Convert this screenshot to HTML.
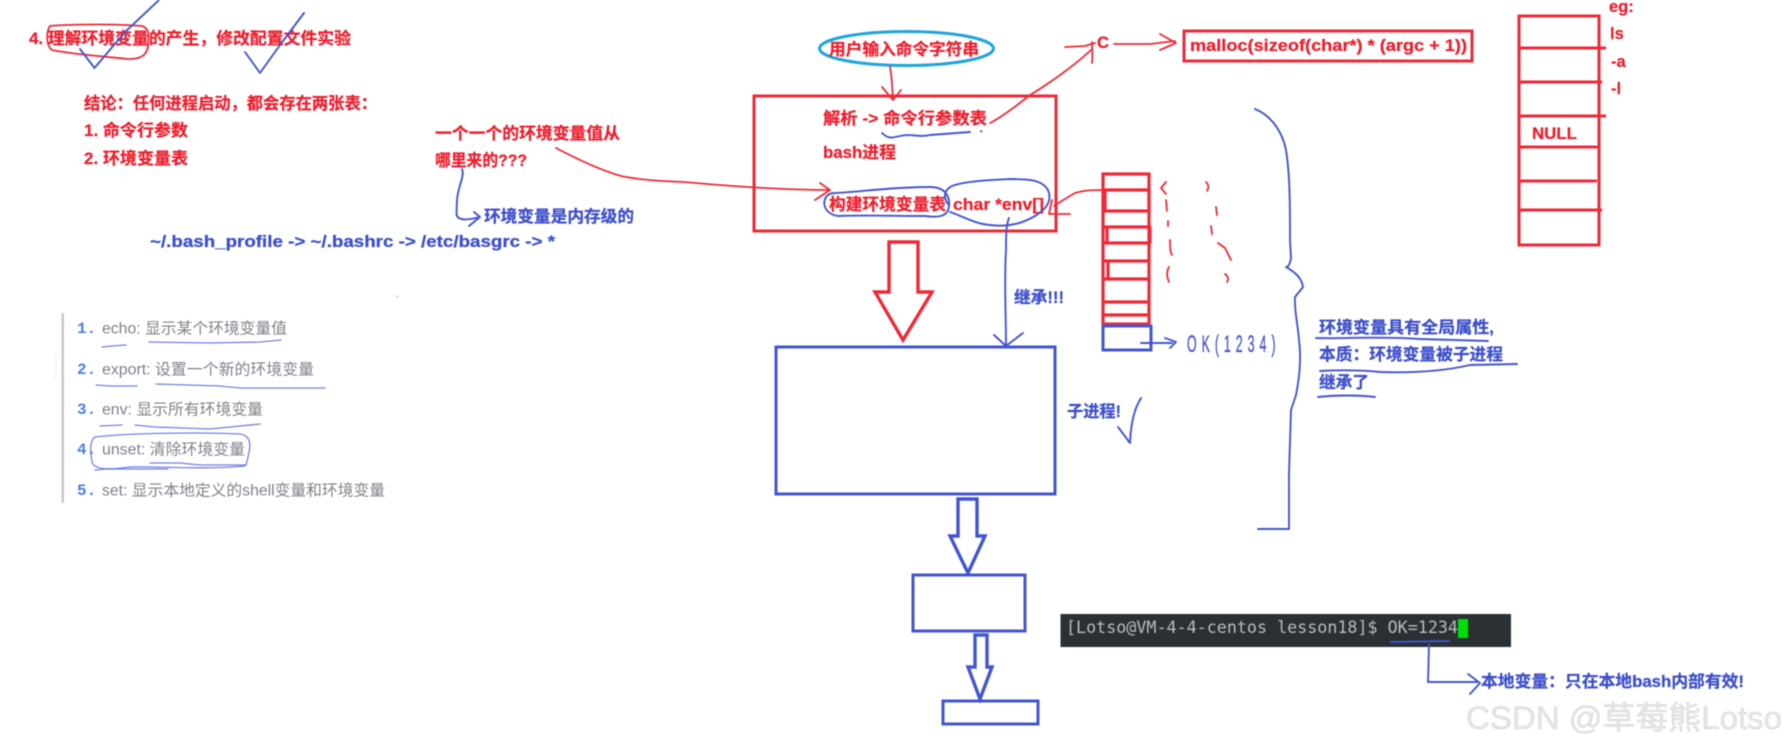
<!DOCTYPE html>
<html lang="zh">
<head>
<meta charset="utf-8">
<title>环境变量</title>
<style>
html,body{margin:0;padding:0;background:#fff;width:1786px;height:748px;overflow:hidden}
svg{display:block;filter:blur(.55px)}
text{font-family:"Liberation Sans","Noto Sans CJK SC",sans-serif;dominant-baseline:central;white-space:pre}
.r{fill:#ec1f2e;stroke:#ec1f2e;stroke-width:.25;font-weight:700;font-size:16.5px;transform:translateY(1px)}
.b{fill:#3c4ecb;stroke:#3c4ecb;stroke-width:.25;font-weight:700;font-size:16.5px;transform:translateY(1px)}
.g{fill:#7d8289;font-size:15.5px}
.n{fill:#4a7fe8;font-size:16px;font-weight:700;font-family:"Liberation Mono",monospace}
.sr,.sb,.sr2,.sb2,.sb1{fill:none;stroke-linecap:round;stroke-linejoin:round}
.sr{stroke:#ee2a37;stroke-width:1.8}
.sr2{stroke:#ee2a37;stroke-width:3.4;stroke-linejoin:miter}
.sb{stroke:#4355cf;stroke-width:1.9}
.sb1{stroke:#5a6adf;stroke-width:1.3;opacity:.85}
.sb2{stroke:#4355cf;stroke-width:3.4;stroke-linejoin:miter}
</style>
</head>
<body>
<svg xmlns="http://www.w3.org/2000/svg" width="1786" height="748" viewBox="0 0 1786 748">
<rect width="1786" height="748" fill="#fff"/>

<!-- top-left notes -->
<text class="r" x="29" y="38" textLength="322" lengthAdjust="spacingAndGlyphs">4. 理解环境变量的产生，修改配置文件实验</text>
<path class="sr" d="M50 26 C70 24 120 24 142 26 C149 28 149 34 148 46 C147 56 140 59 128 59 C100 56 70 54 52 50 C46 46 46 32 50 26Z"/>
<path class="sb" d="M80 49 L94.5 68 L125 32 L159 0"/>
<path class="sb" d="M245 52 L260 73 L280 45 L304 13"/>
<text class="r" x="84" y="103" textLength="293" lengthAdjust="spacingAndGlyphs">结论：任何进程启动，都会存在两张表：</text>
<text class="r" x="84" y="130" textLength="104" lengthAdjust="spacingAndGlyphs">1. 命令行参数</text>
<text class="r" x="84" y="158" textLength="104" lengthAdjust="spacingAndGlyphs">2. 环境变量表</text>
<text class="r" x="435" y="133" textLength="185" lengthAdjust="spacingAndGlyphs">一个一个的环境变量值从</text>
<text class="r" x="435" y="160" textLength="92" lengthAdjust="spacingAndGlyphs">哪里来的???</text>
<path class="sb" d="M462 169 C465 176 458 186 457 200 L456.5 214 C457 220 465 221 480 217 M474 212 L480 217 L469 226"/>
<text class="b" x="484" y="216" textLength="150" lengthAdjust="spacingAndGlyphs">环境变量是内存级的</text>
<text class="b" x="150" y="241" textLength="405" lengthAdjust="spacingAndGlyphs">~/.bash_profile -&gt; ~/.bashrc -&gt; /etc/basgrc -&gt; *</text>
<path class="sr" d="M556 148 C575 158 600 170 621 176 C640 180 660 181 683 182 C730 186 780 190 830 190 M820 183 L830 190 L815 200"/>

<!-- left list -->
<path d="M62.7 313 V503" stroke="#c6c8cc" stroke-width="2.5" fill="none"/>
<path d="M54 353 C57 358 56 376 54 381" stroke="#eeeeee" stroke-width="1" fill="none"/>
<rect x="396.5" y="295.5" width="1.5" height="1.5" fill="#9aa3d8"/>
<text class="n" x="77" y="329">1.</text>
<text class="n" x="77" y="370">2.</text>
<text class="n" x="77" y="410">3.</text>
<text class="n" x="77" y="450">4.</text>
<text class="n" x="77" y="491">5.</text>
<text class="g" x="102" y="329" textLength="185" lengthAdjust="spacingAndGlyphs">echo: 显示某个环境变量值</text>
<text class="g" x="102" y="370" textLength="212" lengthAdjust="spacingAndGlyphs">export: 设置一个新的环境变量</text>
<text class="g" x="102" y="410" textLength="161" lengthAdjust="spacingAndGlyphs">env: 显示所有环境变量</text>
<text class="g" x="102" y="450" textLength="143" lengthAdjust="spacingAndGlyphs">unset: 清除环境变量</text>
<text class="g" x="102" y="491" textLength="283" lengthAdjust="spacingAndGlyphs">set: 显示本地定义的shell变量和环境变量</text>
<path class="sb1" d="M102 347 L112 346 L126 345 M149 342 L210 343 L260 342 L281 340 M96 385 L110 386 L137 386 M156 384 L220 386 L240 388 L325 388 M100 426 L122 425 M135 425 L155 427 L210 429 L260 424 M95 470 L105 469 L168 469 M150 463 L180 463 L200 465 L245 465"/>
<path class="sb1" d="M95 437 C130 433 200 432 240 434 C254 436 250 450 246 465 L244 466 C210 470 150 466 130 467 C110 470 94 470 92 462 C90 450 90 440 95 437Z"/>

<!-- middle top -->
<ellipse cx="906.5" cy="48.5" rx="87" ry="17" fill="none" stroke="#1ea5dc" stroke-width="3"/>
<text class="r" x="829" y="49" textLength="150" lengthAdjust="spacingAndGlyphs">用户输入命令字符串</text>
<path class="sr" d="M890 67 C892 76 892 88 893 100 M882 87 L893 100 L901 90"/>
<rect x="754" y="96" width="302" height="135" fill="none" stroke="#ee2a37" stroke-width="3"/>
<text class="r" x="823" y="118" textLength="164" lengthAdjust="spacingAndGlyphs">解析 -&gt; 命令行参数表</text>
<path class="sb" d="M882 133 C888 139 892 138 900 136 C912 133 918 138 930 135 L970 132 M981 131 L981.5 131.5"/>
<text class="r" x="823" y="152" textLength="73" lengthAdjust="spacingAndGlyphs">bash进程</text>
<text class="r" x="829" y="204" textLength="117" lengthAdjust="spacingAndGlyphs">构建环境变量表</text>
<text class="r" x="953" y="204" textLength="91" lengthAdjust="spacingAndGlyphs">char *env[]</text>
<path class="sb" d="M835 193 C860 192 890 187 930 187 C945 187 950 196 949 206 C948 216 940 218 925 216 C895 216 860 215 838 216 C825 214 822 204 826 197 C828 194 832 193 835 193Z"/>
<path class="sb" d="M950 212 C960 215 975 224 990 225 C1005 227 1020 225 1035 216 C1048 208 1052 200 1048 190 C1042 180 1030 179 1010 179 C990 180 965 181 952 186 C944 190 943 197 948 204"/>
<path class="sb" d="M1009 218 C1006 225 1006 235 1006 250 C1004 280 1006 315 1006 345 M994 335 L1006 346 L1023 333"/>
<text class="b" x="1014" y="297" textLength="50" lengthAdjust="spacingAndGlyphs">继承!!!</text>

<!-- C / malloc -->
<path class="sr" d="M990 123 C1000 118 1015 107 1030 95 C1050 83 1075 65 1091 50 M1065 47 L1085 46 L1095 43 M1092 42 C1092 50 1093 56 1092 63"/>
<text class="r" x="1097" y="42" font-size="18">C</text>
<path class="sr" d="M1114 44 L1150 44 L1175 41 M1160 34 L1176 43 L1160 50"/>
<rect x="1184" y="31" width="288" height="30" fill="none" stroke="#ee2a37" stroke-width="3"/>
<text class="r" x="1190" y="45" textLength="277" lengthAdjust="spacingAndGlyphs">malloc(sizeof(char*) * (argc + 1))</text>

<!-- big arrow red -->
<path class="sr2" d="M889 242 H918 V292 H932 L903 340 L875 292 H889Z"/>

<!-- red stack -->
<g fill="none" stroke="#ee2a37" stroke-width="3.2">
<rect x="1103" y="174" width="46" height="150"/>
<path d="M1103 190 H1150 M1103 211 H1150 M1104 227 H1151 M1104 243 H1151 M1104 261 H1149 M1104 279 H1149 M1104 302 H1148 M1104 315 H1148"/>
<path d="M1149 190 V211 M1105 190 V211 M1107 227 V243 M1150 227 V243 M1108 261 V279"/>
</g>
<rect x="1103" y="326" width="48" height="24" fill="none" stroke="#4355cf" stroke-width="3"/>
<path class="sr" d="M1103 190 C1095 190 1085 190 1075 193 C1068 197 1060 202 1054 206 M1050 214 L1070 214 M1052 200 L1049 214"/>
<path class="sr" d="M1166 182 L1161 188 L1166 194 M1206 182 C1209 185 1209 188 1207 191 M1166 200 L1167 211 M1216 207 L1217 215 M1168 221 L1168 226 M1211 226 L1212 234 M1170 240 C1170 247 1170 252 1172 255 M1218 243 L1225 248 L1231 260 M1169 267 C1166 272 1167 278 1169 282 M1225 274 C1228 276 1229 279 1227 282"/>

<path class="sb" d="M1141 343 L1172 343 M1165 338 L1176 342 L1170 348"/>
<text transform="translate(1187 345) scale(.62 1.2)" x="0" y="0" fill="#4355cf" font-size="20" letter-spacing="8" stroke="#4355cf" stroke-width=".3">OK(1234)</text>

<!-- brace -->
<path class="sb" d="M1255 109 C1270 115 1282 130 1286 150 C1290 175 1290 205 1290 240 L1291 258 C1290 265 1287 268 1286 267 C1295 272 1302 278 1303 287 L1295 297 C1294 310 1298 325 1299 340 C1301 355 1300 375 1296 395 L1291 410 L1289 473 L1289 529 L1258 529"/>

<!-- right text -->
<text class="b" x="1319" y="327" textLength="175" lengthAdjust="spacingAndGlyphs">环境变量具有全局属性,</text>
<text class="b" x="1319" y="354" textLength="184" lengthAdjust="spacingAndGlyphs">本质：环境变量被子进程</text>
<text class="b" x="1319" y="382" textLength="50" lengthAdjust="spacingAndGlyphs">继承了</text>
<path class="sb" d="M1316 338 C1340 339 1380 336 1420 339 L1488 341 M1320 371 C1340 370 1360 370 1380 372 C1410 373 1440 372 1470 365 L1517 364 M1318 397 C1335 395 1360 395 1375 397"/>

<!-- NULL stack -->
<g fill="none" stroke="#ee2a37" stroke-width="3">
<rect x="1519" y="16" width="80" height="229"/>
<path d="M1519 48 H1606 M1519 82 H1602 M1519 116 H1606 M1519 147 H1599 M1519 181 H1597 M1519 210 H1602"/>
</g>
<text class="r" x="1532" y="133" textLength="45" lengthAdjust="spacingAndGlyphs">NULL</text>
<text class="r" x="1609" y="6">eg:</text>
<text class="r" x="1610" y="33">ls</text>
<text class="r" x="1611" y="61">-a</text>
<text class="r" x="1611" y="88">-l</text>

<!-- blue boxes -->
<rect x="776" y="347" width="279" height="147" fill="none" stroke="#4355cf" stroke-width="3"/>
<path class="sb2" d="M958 499 H977 V536 H985 L968 573 L950 536 H958Z"/>
<rect x="913" y="575" width="112" height="56" fill="none" stroke="#4355cf" stroke-width="3"/>
<path class="sb2" d="M975 635 H987 V667 H992 L980 699 L968 667 H975Z"/>
<rect x="943" y="701" width="95" height="23" fill="none" stroke="#4355cf" stroke-width="3"/>
<text class="b" x="1067" y="411" textLength="54" lengthAdjust="spacingAndGlyphs">子进程!</text>
<path class="sb" d="M1141 398 C1135 408 1131 420 1130 443 L1118 427"/>

<!-- terminal -->
<rect x="1060.500" y="614" width="450.500" height="33" fill="#2a3033"/>
<text x="1066" y="628" textLength="392" lengthAdjust="spacingAndGlyphs" fill="#b8bdbd" font-size="17" style="font-family:'DejaVu Sans Mono','Liberation Mono',monospace">[Lotso@VM-4-4-centos lesson18]$ OK=1234</text>
<rect x="1458" y="619" width="10" height="19" fill="#00e000"/>
<path class="sb" d="M1391 642 L1449 641"/>
<path class="sb" d="M1429 645 L1428 682 L1478 682 M1468 674 L1480 683 L1470 694"/>
<text class="b" x="1481" y="681" textLength="263" lengthAdjust="spacingAndGlyphs">本地变量：只在本地bash内部有效!</text>

<!-- watermark -->
<text x="1466" y="718" textLength="316" lengthAdjust="spacingAndGlyphs" font-size="32" fill="#e6e6e6" stroke="#c4c4c4" stroke-width=".3">CSDN @草莓熊Lotso</text>
</svg>
</body>
</html>
